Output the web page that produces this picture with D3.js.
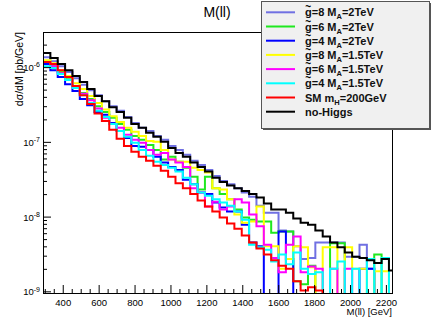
<!DOCTYPE html>
<html>
<head>
<meta charset="utf-8">
<script src="https://cdn.jsdelivr.net/npm/d3@7"></script>
<style>
  body { margin: 0; background: #fff; }
  svg { font-family: "Liberation Sans", Arial, Helvetica, sans-serif; }
</style>
</head>
<body>
<div id="chart"></div>
<script>
// binning of the M(ll) histograms (GeV)
const binStart = 290;
const binWidth = 41;

const xTicks = [400, 600, 800, 1000, 1200, 1400, 1600, 1800, 2000, 2200];
const yTicks = [1e-9, 1e-8, 1e-7, 1e-6];

// dsigma/dM per bin [pb/GeV], 0 = empty bin
const g8_2TeV = [1.36e-6,1.20e-6,1.03e-6,8.6e-7,7.1e-7,5.8e-7,4.9e-7,4.2e-7,3.5e-7,3.0e-7,2.6e-7,2.15e-7,1.79e-7,1.54e-7,1.40e-7,1.20e-7,1.07e-7,8.8e-8,7.8e-8,6.7e-8,5.6e-8,4.9e-8,4.2e-8,3.5e-8,3.0e-8,2.7e-8,2.4e-8,2.1e-8,1.85e-8,1.40e-8,1.13e-8,1.13e-8,6.5e-9,6.3e-9,4.0e-9,2.7e-9,2.8e-9,4.5e-9,4.5e-9,4.5e-9,4.5e-9,2.9e-9,2.9e-9,4.2e-9,2.0e-9,0,0,0];
const g6_2TeV = [1.20e-6,1.07e-6,8.6e-7,6.9e-7,5.6e-7,4.5e-7,3.75e-7,3.0e-7,2.5e-7,2.1e-7,1.74e-7,1.45e-7,1.20e-7,1.07e-7,9.1e-8,7.8e-8,5.8e-8,6.3e-8,5.4e-8,4.5e-8,3.4e-8,2.3e-8,3.4e-8,2.4e-8,2.0e-8,1.7e-8,1.24e-8,9.7e-9,9.1e-9,8.6e-9,8.6e-9,6.1e-9,6.3e-9,6.3e-9,1.36e-9,1.24e-9,2.2e-9,0,0,4.4e-9,4.4e-9,0,0,0,0,3.1e-9,0,0];
const g4_2TeV = [1.10e-6,9.1e-7,7.4e-7,5.9e-7,4.8e-7,3.75e-7,3.1e-7,2.5e-7,2.3e-7,1.79e-7,1.40e-7,1.13e-7,8.8e-8,8.6e-8,7.8e-8,6.3e-8,5.3e-8,4.6e-8,4.2e-8,3.1e-8,2.7e-8,2.1e-8,2.0e-8,1.54e-8,1.32e-8,1.17e-8,1.17e-8,7.8e-9,4.5e-9,4.0e-9,0,0,6.3e-9,2.7e-9,0,0,0,0,0,0,0,0,0,2.0e-9,2.0e-9,0,0,0];
const g8_15TeV = [1.24e-6,1.13e-6,9.1e-7,7.6e-7,6.1e-7,5.1e-7,4.1e-7,3.3e-7,2.7e-7,2.2e-7,1.85e-7,1.54e-7,1.36e-7,1.20e-7,1.03e-7,1.0e-7,7.8e-8,5.8e-8,5.4e-8,5.4e-8,4.5e-8,4.2e-8,3.9e-8,2.4e-8,2.3e-8,1.7e-8,1.07e-8,8.3e-9,8.6e-9,1.36e-8,4.0e-9,4.0e-9,2.0e-9,2.7e-9,4.0e-9,3.9e-9,2.1e-9,0,3.9e-9,3.9e-9,0,3.9e-9,2.0e-9,2.0e-9,0,1.85e-9,1.85e-9,0];
const g6_15TeV = [1.17e-6,1.03e-6,8.3e-7,6.7e-7,5.25e-7,4.4e-7,3.6e-7,2.8e-7,2.1e-7,1.74e-7,1.54e-7,1.24e-7,1.07e-7,9.7e-8,7.8e-8,6.7e-8,7.1e-8,5.8e-8,5.3e-8,4.6e-8,2.4e-8,2.1e-8,1.36e-8,1.58e-8,1.24e-8,1.36e-8,1.7e-8,1.54e-8,1.07e-8,7.4e-9,4.2e-9,2.8e-9,1.8e-9,4.2e-9,5.4e-9,1.8e-9,2.15e-9,2.0e-9,0,2.0e-9,0,2.0e-9,0,0,0,0,0,0];
const g4_15TeV = [1.03e-6,9.7e-7,8.1e-7,6.7e-7,5.25e-7,4.2e-7,3.3e-7,2.6e-7,2.15e-7,1.74e-7,1.40e-7,1.17e-7,9.7e-8,7.8e-8,6.5e-8,5.4e-8,4.9e-8,4.5e-8,4.0e-8,3.3e-8,2.7e-8,2.1e-8,1.9e-8,1.7e-8,1.54e-8,1.40e-8,1.17e-8,9.1e-9,4.2e-9,3.9e-9,3.6e-9,2.5e-9,3.1e-9,2.3e-9,3.3e-9,2.0e-9,1.7e-9,1.8e-9,0,2.0e-9,2.5e-9,0,2.0e-9,0,2.7e-9,0,2.8e-9,0];
const smH200 = [1.17e-6,1.10e-6,9.1e-7,7.4e-7,5.6e-7,4.2e-7,3.2e-7,2.4e-7,1.9e-7,1.45e-7,1.10e-7,8.8e-8,7.4e-8,6.3e-8,5.6e-8,4.8e-8,4.1e-8,3.4e-8,2.8e-8,2.4e-8,2.0e-8,1.64e-8,1.36e-8,1.17e-8,9.7e-9,8.1e-9,6.9e-9,5.6e-9,4.5e-9,3.75e-9,3.1e-9,2.6e-9,2.2e-9,2.0e-9,1.36e-9,1.03e-9,1.13e-9,1.03e-9,0,0,0,0,0,0,0,0,0,0];
const noHiggs = [1.54e-6,1.32e-6,1.10e-6,9.1e-7,7.6e-7,6.3e-7,5.1e-7,4.1e-7,3.5e-7,2.9e-7,2.5e-7,2.1e-7,1.74e-7,1.54e-7,1.32e-7,1.17e-7,1.0e-7,8.3e-8,7.1e-8,6.3e-8,5.3e-8,4.6e-8,4.0e-8,3.3e-8,2.9e-8,2.6e-8,2.4e-8,2.2e-8,2.0e-8,1.8e-8,1.5e-8,1.24e-8,1.24e-8,1.13e-8,9.4e-9,8.3e-9,7.8e-9,6.5e-9,5.4e-9,4.5e-9,3.9e-9,3.3e-9,2.9e-9,2.8e-9,2.6e-9,2.4e-9,2.7e-9,1.9e-9];

// legend text: "~" in front marks a tilde over the first letter, _{..} is a subscript
const labels = ["~g=8 M_{A}=2TeV", "~g=6 M_{A}=2TeV", "~g=4 M_{A}=2TeV", "~g=8 M_{A}=1.5TeV",
  "~g=6 M_{A}=1.5TeV", "~g=4 M_{A}=1.5TeV", "SM m_{H}=200GeV", "no-Higgs"];
const colors = ["#7070e2", "#1fe81f", "#0000ff", "#ffff00", "#ff00ff", "#00ffff", "#ff0000", "#000000"];
const seriesValues = [g8_2TeV, g6_2TeV, g4_2TeV, g8_15TeV, g6_15TeV, g4_15TeV, smH200, noHiggs];

const W = 436, H = 327;
const margin = { top: 32, right: 44, bottom: 34, left: 43 };
const width = W - margin.left - margin.right;
const height = H - margin.top - margin.bottom;

const svg = d3.select("#chart").append("svg")
  .attr("width", W)
  .attr("height", H);

const x = d3.scaleLinear().domain([290, 2234]).range([0, width]);
const y = d3.scaleLog().domain([9.5e-10, 2.95e-6]).range([height, 0]);

const plot = svg.append("g")
  .attr("transform", "translate(" + margin.left + "," + margin.top + ")");

plot.append("clipPath").attr("id", "clip")
  .append("rect").attr("width", width).attr("height", height);

const histLine = d3.line()
  .curve(d3.curveStepAfter)
  .x(d => x(d.edge))
  .y(d => d.value > 0 ? y(d.value) : height + 3);

function histPoints(values) {
  let pts = values.map((v, i) => ({ edge: binStart + i * binWidth, value: v }));
  pts.push({ edge: binStart + values.length * binWidth, value: values[values.length - 1] });
  return pts;
}

seriesValues.forEach((vals, i) => {
  plot.append("path")
    .datum(histPoints(vals))
    .attr("clip-path", "url(#clip)")
    .attr("fill", "none")
    .attr("stroke", colors[i])
    .attr("stroke-width", 2)
    .attr("d", histLine);
});

// x axis, ROOT style ticks pointing inside
let xMinor = d3.range(300, 2234, 50).filter(v => v % 200 !== 0);
plot.append("g").attr("transform", "translate(0," + height + ")")
  .call(d3.axisBottom(x).tickValues(xMinor).tickSizeInner(-4).tickSizeOuter(0).tickFormat(""))
  .call(g => g.select(".domain").remove());
let xAxis = plot.append("g").attr("transform", "translate(0," + height + ")")
  .call(d3.axisBottom(x).tickValues(xTicks).tickSizeInner(-8).tickSizeOuter(0).tickPadding(6).tickFormat(d3.format("d")));
xAxis.select(".domain").remove();
xAxis.selectAll("text").attr("font-size", "9.5px").attr("fill", "#000").attr("font-family", null);

// y axis
let yMinor = [];
[1e-9, 1e-8, 1e-7, 1e-6].forEach(dec => {
  for (let m = 2; m <= 9; m++) if (dec * m < 2.95e-6) yMinor.push(dec * m);
});
plot.append("g")
  .call(d3.axisLeft(y).tickValues(yMinor).tickSizeInner(-4).tickSizeOuter(0).tickFormat(""))
  .call(g => g.select(".domain").remove());
let yAxis = plot.append("g")
  .call(d3.axisLeft(y).tickValues(yTicks).tickSizeInner(-8).tickSizeOuter(0).tickPadding(3).tickFormat(""));
yAxis.select(".domain").remove();
yAxis.selectAll(".tick text")
  .attr("font-size", "9.5px").attr("fill", "#000").attr("font-family", null)
  .attr("dy", "0.38em")
  .each(function(d) {
    let t = d3.select(this);
    t.append("tspan").text("10");
    t.append("tspan").attr("font-size", "7px").attr("dy", "-0.55em").text(Math.round(Math.log10(d)));
  });

// frame
plot.append("rect")
  .attr("width", width).attr("height", height)
  .attr("fill", "none").attr("stroke", "#000").attr("stroke-width", 1)
  .attr("shape-rendering", "crispEdges");

// titles
svg.append("text")
  .attr("x", 217).attr("y", 17)
  .attr("text-anchor", "middle").attr("font-size", "14px")
  .text("M(ll)");

svg.append("text")
  .attr("transform", "translate(23," + margin.top + ") rotate(-90)")
  .attr("text-anchor", "end").attr("font-size", "10.5px")
  .text("dσ/dM [pb/GeV]");

svg.append("text")
  .attr("x", margin.left + width).attr("y", 315)
  .attr("text-anchor", "end").attr("font-size", "9.5px")
  .text("M(ll) [GeV]");

// legend
const lg = { x: 261, y: 1, w: 168, h: 127, row: 14.2, first: 12.3 };
svg.append("rect")
  .attr("x", lg.x + 2).attr("y", lg.y + 2).attr("width", lg.w).attr("height", lg.h)
  .attr("fill", "#555");
svg.append("rect")
  .attr("x", lg.x).attr("y", lg.y).attr("width", lg.w).attr("height", lg.h)
  .attr("fill", "#f0f0f0").attr("stroke", "#555").attr("stroke-width", 1)
  .attr("shape-rendering", "crispEdges");

labels.forEach((lab, i) => {
  let cy = lg.first + i * lg.row;
  svg.append("line")
    .attr("x1", 266).attr("x2", 295).attr("y1", cy).attr("y2", cy)
    .attr("stroke", colors[i]).attr("stroke-width", 2);
  let txt = svg.append("text")
    .attr("x", 305).attr("y", cy + 4)
    .attr("font-size", "11px").attr("font-weight", "bold").attr("fill", "#111");
  let s = lab;
  if (s[0] === "~") {
    s = s.slice(1);
    svg.append("text")
      .attr("x", 305.3).attr("y", cy - 2)
      .attr("font-size", "10px").attr("font-weight", "bold").attr("fill", "#000")
      .text("~");
  }
  let parts = s.split(/_\{(.*?)\}/);
  parts.forEach((p, j) => {
    if (j % 2 === 1) {
      txt.append("tspan").attr("font-size", "7.5px").attr("dy", 3).text(p);
    } else if (p) {
      txt.append("tspan").attr("dy", j > 0 ? -3 : 0).text(p);
    }
  });
});
</script>
</body>
</html>
